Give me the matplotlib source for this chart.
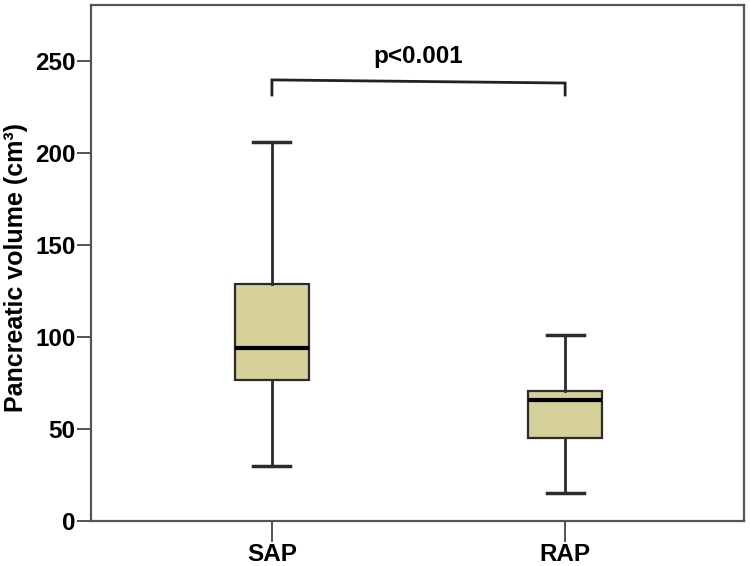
import matplotlib
matplotlib.use("Agg")
import matplotlib.pyplot as plt

# box plot summaries
groups = ["SAP", "RAP"]
whisker_low = [30, 15]
q1 = [76.5, 45]
median = [94, 66]
q3 = [129, 70.5]
whisker_high = [206, 101]

y_ticks = [0, 50, 100, 150, 200, 250]
p_label = "p<0.001"

plt.rcParams['font.family'] = ['Liberation Sans', 'DejaVu Sans']
plt.rcParams['font.weight'] = 'bold'

fig = plt.figure(figsize=(7.5, 5.66), dpi=100)
ax = fig.add_axes([91 / 750, 1 - 521 / 566, 653 / 750, 516 / 566])

stats = []
for i, name in enumerate(groups):
    stats.append({'label': name, 'whislo': whisker_low[i], 'q1': q1[i],
                  'med': median[i], 'q3': q3[i], 'whishi': whisker_high[i],
                  'fliers': []})

edge = '#2b2b2b'
ax.bxp(stats, positions=[1, 2], widths=0.252, patch_artist=True,
       showfliers=False, capwidths=0.126,
       boxprops=dict(facecolor='#d5cf99', edgecolor=edge, linewidth=1.6),
       medianprops=dict(color='black', linewidth=3),
       whiskerprops=dict(color=edge, linewidth=2),
       capprops=dict(color=edge, linewidth=2.5))

# significance bracket
ax.plot([1, 1, 2, 2], [231.5, 239.7, 238.0, 231.5], color='#222222',
        linewidth=2, solid_joinstyle='miter')
ax.text(1.5, 249, p_label, ha='center', va='baseline', fontsize=17.5,
        fontweight='bold')

ax.set_xlim(0.383, 2.61)
ax.set_ylim(0, 280.4)
ax.set_yticks(y_ticks)
ax.set_xticks([1, 2])
ax.set_xticklabels(groups)
ax.tick_params(axis='y', length=10, width=1.3, color='#444444',
               labelsize=17.5, pad=1)
ax.tick_params(axis='x', length=15, width=1.3, color='#444444',
               labelsize=17.5, pad=0.5)
for s in ax.spines.values():
    s.set_color('#555555')
    s.set_linewidth(1.6)

ax.set_ylabel('Pancreatic volume (cm³)', fontsize=18, fontweight='bold',
              labelpad=3)
ax.yaxis.set_label_coords(-0.096, 0.492)

fig.savefig('out.png', dpi=100)
